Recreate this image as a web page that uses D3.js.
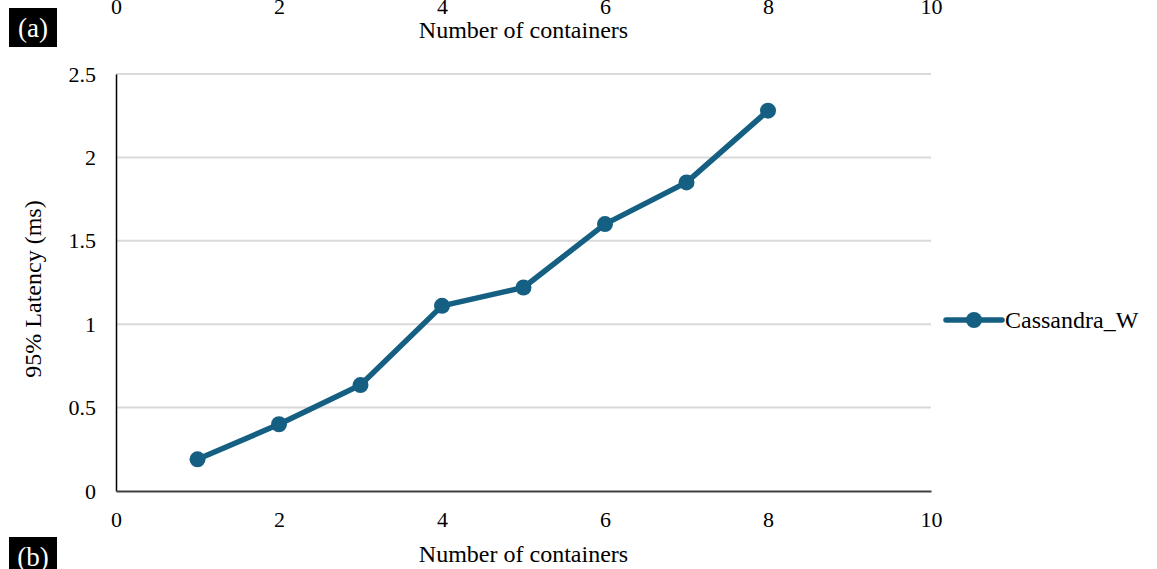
<!DOCTYPE html>
<html>
<head>
<meta charset="utf-8">
<script src="https://cdn.jsdelivr.net/npm/d3@7"></script>
<style>
  html, body { margin: 0; padding: 0; background: #fff; }
  svg { display: block; }
  text { font-family: "Liberation Serif", "Times New Roman", serif; fill: #000; }
</style>
</head>
<body>
<svg id="chart" width="1157" height="569"></svg>
<script>
// Data: 95th percentile write latency vs. number of containers
const containers = [1, 2, 3, 4, 5, 6, 7, 8];
const latencyMs = [0.19, 0.40, 0.635, 1.11, 1.22, 1.60, 1.85, 2.28];
const seriesName = "Cassandra_W";
const xTicks = [0, 2, 4, 6, 8, 10];
const yTicks = [0, 0.5, 1, 1.5, 2, 2.5];
const xTitle = "Number of containers";
const yTitle = "95% Latency (ms)";

const color = "#156082";
const tickFont = "22px";
const titleFont = "24px";
const svg = d3.select("#chart");

const plot = { left: 116, right: 931, top: 74, bottom: 491 };
const x = d3.scaleLinear().domain([0, 10]).range([plot.left, plot.right]);
const y = d3.scaleLinear().domain([0, 2.5]).range([plot.bottom, plot.top]);

// Horizontal gridlines
svg.append("g")
  .selectAll("line")
  .data(yTicks.filter(d => d > 0))
  .join("line")
  .attr("x1", plot.left).attr("x2", plot.right)
  .attr("y1", d => y(d)).attr("y2", d => y(d))
  .attr("stroke", "#d9d9d9").attr("stroke-width", 2);

// Y axis
const yAxis = svg.append("g")
  .attr("transform", `translate(${plot.left},0)`)
  .call(d3.axisLeft(y).tickValues(yTicks).tickFormat(d3.format("")).tickSize(0).tickPadding(20));
yAxis.select(".domain").attr("stroke", "#000").attr("stroke-width", 1.5);
yAxis.selectAll("text").style("font-size", tickFont).attr("font-family", "Liberation Serif");

// X axis
const xAxis = svg.append("g")
  .attr("transform", `translate(0,${plot.bottom})`)
  .call(d3.axisBottom(x).tickValues(xTicks).tickSize(0).tickPadding(20));
xAxis.select(".domain").attr("stroke", "#404040").attr("stroke-width", 2);
xAxis.selectAll("text").style("font-size", tickFont).attr("font-family", "Liberation Serif");

// X axis title
svg.append("text")
  .attr("x", (plot.left + plot.right) / 2)
  .attr("y", 562)
  .attr("text-anchor", "middle")
  .style("font-size", titleFont)
  .text(xTitle);

// Y axis title
svg.append("text")
  .attr("transform", `translate(41,289) rotate(-90)`)
  .attr("text-anchor", "middle")
  .style("font-size", titleFont)
  .text(yTitle);

// Trailing axis of the panel above, running off the top edge
const xAxisAbove = svg.append("g")
  .attr("transform", `translate(0,-22)`)
  .call(d3.axisBottom(x).tickValues(xTicks).tickSize(0).tickPadding(20));
xAxisAbove.select(".domain").remove();
xAxisAbove.selectAll("text").style("font-size", tickFont).attr("font-family", "Liberation Serif");
svg.append("text")
  .attr("x", (plot.left + plot.right) / 2)
  .attr("y", 38)
  .attr("text-anchor", "middle")
  .style("font-size", titleFont)
  .text(xTitle);

// Line series
const line = d3.line()
  .x((d, i) => x(containers[i]))
  .y(d => y(d));
svg.append("path")
  .datum(latencyMs)
  .attr("d", line)
  .attr("fill", "none")
  .attr("stroke", color)
  .attr("stroke-width", 5.5)
  .attr("stroke-linejoin", "round")
  .attr("stroke-linecap", "round");

svg.append("g")
  .selectAll("circle")
  .data(latencyMs)
  .join("circle")
  .attr("cx", (d, i) => x(containers[i]))
  .attr("cy", d => y(d))
  .attr("r", 8)
  .attr("fill", color);

// Legend
const lg = svg.append("g").attr("transform", "translate(946,320)");
lg.append("line")
  .attr("x1", 0).attr("x2", 56).attr("y1", 0).attr("y2", 0)
  .attr("stroke", color).attr("stroke-width", 5.5).attr("stroke-linecap", "round");
lg.append("circle").attr("cx", 28).attr("cy", 0).attr("r", 8).attr("fill", color);
lg.append("text")
  .attr("x", 59).attr("y", 8)
  .style("font-size", titleFont)
  .text(seriesName);

// Panel labels
function panelLabel(label, yTop, h) {
  svg.append("rect")
    .attr("x", 9).attr("y", yTop).attr("width", 48).attr("height", h)
    .attr("fill", "#000");
  svg.append("text")
    .attr("x", 33).attr("y", yTop + 29)
    .attr("text-anchor", "middle")
    .style("font-size", "27px")
    .style("fill", "#fff")
    .text(label);
}
panelLabel("(a)", 8, 39);
panelLabel("(b)", 537, 40);
</script>
</body>
</html>
